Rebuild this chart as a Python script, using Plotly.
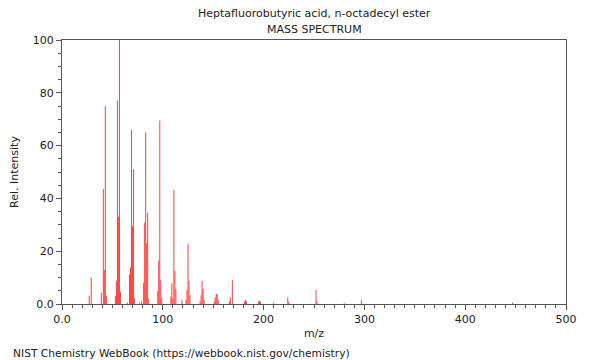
import plotly.graph_objects as go

mz = [27, 29, 39, 41, 42, 43, 44, 53, 54, 55, 56, 57, 58, 65, 67, 68, 69, 70, 71, 72,
      77, 79, 81, 82, 83, 84, 85, 86, 95, 96, 97, 98, 99, 108, 109, 110, 111, 112, 113,
      119, 123, 124, 125, 126, 127, 137, 138, 139, 140, 141, 151, 152, 153, 154, 155,
      166, 167, 169, 181, 182, 183, 195, 196, 197, 210, 224, 225, 252, 253, 280, 297, 447]
intensity = [3.2, 10, 4.3, 43.6, 12.9, 75, 3, 3, 8.8, 77, 33, 100, 4.7, 0.5, 11.2, 13.8, 66, 29.5, 51, 2.3,
             0.5, 1, 8, 30.8, 65, 23, 34.6, 2, 4.9, 16.4, 69.5, 9, 2.4, 2.8, 8, 2, 43.2, 12.5, 5.6,
             1.5, 1.5, 5.3, 22.7, 8.8, 3.3, 1, 3.3, 8.7, 5.8, 1.5, 1, 2.5, 3.8, 3.8, 1.5,
             1, 2.5, 9, 1, 1.5, 1, 1, 1.2, 0.8, 0.5, 2.5, 0.8, 5.3, 1, 0.3, 1.5, 0.5]

x_ticks = [0, 100, 200, 300, 400, 500]
x_tick_labels = ["0.0", "100", "200", "300", "400", "500"]
y_ticks = [0, 20, 40, 60, 80, 100]
y_tick_labels = ["0.0", "20", "40", "60", "80", "100"]

title_line1 = "Heptafluorobutyric acid, n-octadecyl ester"
title_line2 = "MASS SPECTRUM"
footer = "NIST Chemistry WebBook (https://webbook.nist.gov/chemistry)"

xs, ys = [], []
for m, v in zip(mz, intensity):
    xs += [m, m, None]
    ys += [0, v, None]

fig = go.Figure(go.Scatter(x=xs, y=ys, mode="lines",
                           line=dict(color="#ff4040", width=1),
                           hoverinfo="skip", showlegend=False))

font = dict(family="DejaVu Sans", size=11, color="#222")
axis_common = dict(showgrid=False, zeroline=False, showline=True, mirror=True,
                   linecolor="#555", linewidth=1, ticks="outside", ticklen=5,
                   tickcolor="#555", tickfont=font, automargin=False)
fig.update_xaxes(range=[0, 500], tickvals=x_ticks, ticktext=x_tick_labels,
                 minor=dict(dtick=10, ticks="outside", ticklen=3, tickcolor="#555"),
                 title=dict(text="m/z", font=font, standoff=4), **axis_common)
fig.update_yaxes(range=[0, 100], tickvals=y_ticks, ticktext=y_tick_labels,
                 minor=dict(dtick=5, ticks="outside", ticklen=3, tickcolor="#555"),
                 title=dict(text="Rel. Intensity", font=font, standoff=14), **axis_common)

# page has an 8px body margin; figure sized so the plot area lands where the reference has it
W, H = 592, 352
L, R, T, B = 54, 34, 32, 56
fig.update_layout(
    width=W, height=H,
    margin=dict(l=L, r=R, t=T, b=B, autoexpand=False),
    paper_bgcolor="white", plot_bgcolor="white",
    font=font,
    annotations=[
        dict(text=title_line1, x=0.5, y=1, xref="paper", yref="paper", xanchor="center",
             yanchor="bottom", yshift=18, showarrow=False, font=font),
        dict(text=title_line2, x=0.5, y=1, xref="paper", yref="paper", xanchor="center",
             yanchor="bottom", yshift=2, showarrow=False, font=font),
        dict(text=footer, x=(3 - L) / (W - L - R), y=-(345 - (H - B)) / (H - T - B),
             xref="paper", yref="paper", xanchor="left", yanchor="middle",
             showarrow=False, font=dict(family="DejaVu Sans", size=10.7, color="#222")),
    ],
)

fig.write_html("out.html")
